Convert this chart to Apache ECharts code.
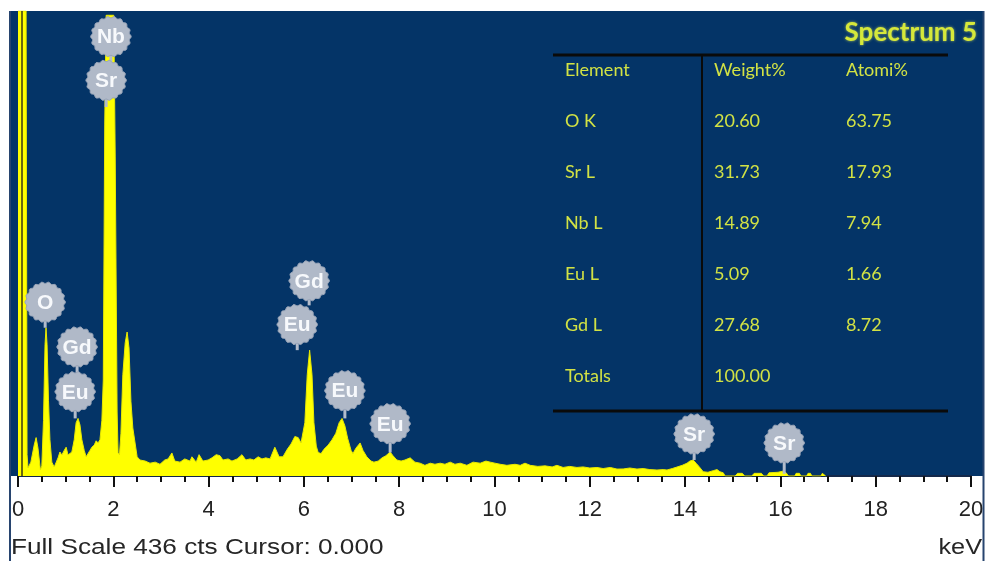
<!DOCTYPE html>
<html>
<head>
<meta charset="utf-8">
<script src="https://cdn.jsdelivr.net/npm/echarts@6/dist/echarts.min.js"></script>
<style>
  html, body { margin: 0; padding: 0; background: #ffffff; }
  #chart { width: 986px; height: 561px; }
</style>
</head>
<body>
<div id="chart"></div>
<script>
// EDS spectrum: energy (keV) and counts
const energyKeV = [
  0.00, 0.17, 0.19, 0.21, 0.27, 0.34, 0.38, 0.42, 0.47, 0.50,
  0.535, 0.567, 0.588, 0.61, 0.64, 0.67, 0.71, 0.76, 0.80, 0.84,
  0.88, 0.92, 0.97, 1.01, 1.05, 1.09, 1.13, 1.18, 1.22, 1.26,
  1.30, 1.34, 1.39, 1.43, 1.47, 1.51, 1.55, 1.60, 1.64, 1.68,
  1.72, 1.76, 1.79, 1.82, 1.85, 2.01, 2.04, 2.08, 2.10, 2.13,
  2.16, 2.20, 2.25, 2.29, 2.33, 2.37, 2.41, 2.46, 2.50, 2.56,
  2.67, 2.77, 2.88, 2.98, 3.08, 3.15, 3.23, 3.29, 3.40, 3.50,
  3.61, 3.65, 3.74, 3.80, 3.88, 3.99, 4.07, 4.16, 4.24, 4.30,
  4.41, 4.49, 4.60, 4.70, 4.78, 4.87, 4.95, 5.04, 5.12, 5.20,
  5.29, 5.39, 5.48, 5.56, 5.65, 5.73, 5.81, 5.88, 5.94, 5.98,
  6.02, 6.07, 6.12, 6.17, 6.21, 6.26, 6.30, 6.36, 6.42, 6.51,
  6.59, 6.67, 6.74, 6.80, 6.86, 6.92, 6.99, 7.03, 7.09, 7.18,
  7.24, 7.32, 7.41, 7.47, 7.56, 7.64, 7.72, 7.81, 7.87, 7.95,
  8.04, 8.12, 8.23, 8.33, 8.44, 8.54, 8.65, 8.75, 8.86, 8.96,
  9.07, 9.17, 9.28, 9.42, 9.55, 9.70, 9.82, 9.91, 10.01, 10.12,
  10.26, 10.43, 10.54, 10.64, 10.75, 10.91, 11.06, 11.21, 11.31, 11.44,
  11.58, 11.73, 11.86, 12.00, 12.15, 12.28, 12.43, 12.57, 12.70, 12.84,
  12.99, 13.12, 13.26, 13.41, 13.54, 13.62, 13.73, 13.83, 13.94, 14.04,
  14.10, 14.17, 14.23, 14.29, 14.38, 14.48, 14.59, 14.67, 14.73, 14.80,
  14.84, 15.05, 15.10, 15.20, 15.25, 15.40, 15.45, 15.60, 15.65, 15.72,
  15.76, 15.95, 16.05, 16.12, 16.17, 16.30, 16.33, 16.40, 16.43, 16.55,
  16.58, 16.63, 16.66, 16.85, 16.88, 16.92, 16.95
];
const counts = [
  436, 436, 20, 7.5, 13, 29, 36, 26, 5.6, 9.4,
  52, 123, 139, 123, 71, 34, 13, 8.4, 9.4, 17,
  22.5, 19.7, 24, 27, 19.7, 18, 22.5, 34, 50, 54,
  48, 34, 24, 18, 19, 24, 27, 29, 33, 31,
  34, 52, 90, 330, 432, 432, 300, 60, 22, 20,
  40, 95, 125, 135, 120, 70, 45, 30, 18, 15,
  14, 12, 13, 11, 15, 16, 21.6, 14, 13, 16,
  14, 18, 13, 20, 14, 15, 17, 20, 19, 15,
  16, 14, 16, 20, 15, 16, 15, 18, 16, 17,
  16, 27, 18, 18, 25, 30, 37, 36, 31, 32,
  50, 95, 118, 95, 50, 28, 22, 21, 25, 29,
  34, 40, 50, 54, 47, 35, 24, 21, 26, 31,
  24, 18, 14, 13, 14, 17, 19, 22.5, 19, 15,
  14, 15, 17, 13, 12, 10, 12, 11, 12, 11,
  13, 11, 12, 10, 13, 12, 14, 13, 12, 11,
  10, 11, 10, 12, 10, 9, 9.5, 8.5, 10, 8,
  9, 8, 8.5, 7.5, 8, 7, 8, 6.5, 6.6, 7.5,
  6.5, 7, 6, 5.6, 6, 5.6, 7, 8.4, 10, 12,
  14, 15, 12, 9, 4, 3.5, 5, 6, 4, 3,
  0, 0, 2.5, 2.5, 0, 0, 2.5, 2.5, 0, 0,
  3, 3.5, 4.5, 3, 0, 0, 2.5, 2.5, 0, 0,
  2.5, 2.5, 0, 0, 2.5, 2.5, 0
];
const fullScaleCounts = 436;
const cursorLineKeV = 0.08;

// peak identification markers
const markerElement = ['Nb', 'Sr', 'O', 'Gd', 'Eu', 'Gd', 'Eu', 'Eu', 'Eu', 'Sr', 'Sr'];
const markerKeV     = [1.95, 1.85, 0.57, 1.24, 1.20, 6.11, 5.86, 6.86, 7.81, 14.19, 16.08];
const markerCounts  = [412, 371, 163, 121, 79, 183, 142, 80, 49, 39.4, 31];
const markerStemTo  = [371, 346, 139, 79, 54, 160, 118, 54, 22, 15, 2];

// x-axis ticks
const xTickMin = 0, xTickMax = 20, xTickStep = 2;

// quantification table
const tableHeader   = ['Element', 'Weight%', 'Atomi%'];
const tableElements = ['O K', 'Sr L', 'Nb L', 'Eu L', 'Gd L', 'Totals'];
const tableWeight   = ['20.60', '31.73', '14.89', '5.09', '27.68', '100.00'];
const tableAtomic   = ['63.75', '17.93', '7.94', '1.66', '8.72', ''];

const spectrumTitle = 'Spectrum 5';
const footerText = 'Full Scale ' + fullScaleCounts + ' cts Cursor: 0.000';
const unitText = 'keV';

const spectrum = energyKeV.map((e, i) => [e, counts[i]]);
const markers = markerElement.map((m, i) => [markerKeV[i], markerCounts[i], markerStemTo[i], m]);

// serrated badge outline around a centre point
function badgePoints(cx, cy) {
  const pts = [];
  const n = 120, r = 19.5, bumps = 18, amp = 0.8;
  for (let k = 0; k < n; k++) {
    const t = (2 * Math.PI * k) / n;
    const rr = r + amp * Math.cos(bumps * t);
    pts.push([cx + rr * Math.cos(t), cy + rr * Math.sin(t)]);
  }
  return pts;
}

const tableColor = '#d2e244';
const tableFont = '"Lato", "Noto Sans", sans-serif';
const axisFont = '"Liberation Sans", Arial, sans-serif';
const colX = [565, 714, 846];
const rowY0 = 70, rowStep = 51;

const graphics = [
  // panel background
  { type: 'rect', z: -10, shape: { x: 9, y: 11, width: 975, height: 465 }, style: { fill: '#043467' } },
  // frame sides
  { type: 'line', z: 10, shape: { x1: 10, y1: 11, x2: 10, y2: 561 }, style: { stroke: '#27446f', lineWidth: 2 } },
  { type: 'line', z: 10, shape: { x1: 983.5, y1: 11, x2: 983.5, y2: 561 }, style: { stroke: '#27446f', lineWidth: 2 } },
  // title
  { type: 'text', z: 10, style: { text: spectrumTitle, x: 977, y: 33, align: 'right', verticalAlign: 'middle',
      font: 'bold 26px ' + tableFont, fill: '#d6e83a', textShadowColor: 'rgba(225,240,90,0.7)', textShadowBlur: 3 } },
  // table rules
  { type: 'line', z: 10, shape: { x1: 553, y1: 55, x2: 948, y2: 55 }, style: { stroke: '#0a0a0a', lineWidth: 3 } },
  { type: 'line', z: 10, shape: { x1: 553, y1: 411, x2: 948, y2: 411 }, style: { stroke: '#0a0a0a', lineWidth: 3 } },
  { type: 'line', z: 10, shape: { x1: 702, y1: 55, x2: 702, y2: 411 }, style: { stroke: '#0a0a0a', lineWidth: 2 } },
  // footer (the status font runs wider than Arial, hence the horizontal stretch)
  { type: 'text', z: 10, x: 11, y: 548, scaleX: 1.19, style: { text: footerText, x: 0, y: 0, align: 'left', verticalAlign: 'middle',
      font: '22px ' + axisFont, fill: '#262626' } },
  { type: 'text', z: 10, x: 982, y: 548, scaleX: 1.15, style: { text: unitText, x: 0, y: 0, align: 'right', verticalAlign: 'middle',
      font: '22px ' + axisFont, fill: '#262626' } }
];

function addTableText(text, x, y) {
  graphics.push({ type: 'text', z: 10, style: { text: text, x: x, y: y, align: 'left', verticalAlign: 'middle',
    font: '18px ' + tableFont, fill: tableColor } });
}
tableHeader.forEach((h, c) => addTableText(h, colX[c], rowY0));
tableElements.forEach((el, r) => {
  const y = rowY0 + rowStep * (r + 1);
  addTableText(el, colX[0], y);
  addTableText(tableWeight[r], colX[1], y);
  if (tableAtomic[r]) addTableText(tableAtomic[r], colX[2], y);
});

const chart = echarts.init(document.getElementById('chart'), null, { renderer: 'canvas' });
chart.setOption({
  animation: false,
  backgroundColor: '#ffffff',
  grid: { left: 18, right: 15, top: 11, bottom: 85, containLabel: false, outerBoundsMode: 'none' },
  xAxis: {
    type: 'value', min: xTickMin, max: xTickMax, interval: xTickStep,
    axisLine: { show: true, onZero: false, lineStyle: { color: '#14284a', width: 2 } },
    axisTick: { show: true, length: 11, lineStyle: { color: '#111111', width: 2 } },
    minorTick: { show: true, splitNumber: 4, length: 6, lineStyle: { color: '#111111', width: 2 } },
    splitLine: { show: false },
    axisLabel: { color: '#222222', fontSize: 22, fontFamily: axisFont, margin: 23,
                 showMinLabel: true, showMaxLabel: true }
  },
  yAxis: {
    type: 'value', min: 0, max: fullScaleCounts, show: false, splitLine: { show: false }
  },
  graphic: graphics,
  series: [
    {
      type: 'line',
      data: spectrum,
      showSymbol: false,
      smooth: false,
      z: 2,
      lineStyle: { color: '#e8e800', width: 1 },
      areaStyle: { color: '#ffff00', opacity: 1 },
      markLine: {
        silent: true, symbol: 'none', label: { show: false },
        lineStyle: { color: '#3a3812', width: 1.5, type: 'solid' },
        data: [{ xAxis: cursorLineKeV }]
      }
    },
    {
      type: 'custom',
      data: markers,
      z: 5,
      renderItem: function (params, api) {
        const c = api.coord([api.value(0), api.value(1)]);
        const s = api.coord([api.value(0), api.value(2)]);
        const label = markers[params.dataIndex][3];
        return {
          type: 'group',
          children: [
            { type: 'line', shape: { x1: c[0], y1: c[1], x2: s[0], y2: s[1] },
              style: { stroke: '#b3bccb', lineWidth: 3 } },
            { type: 'polygon', shape: { points: badgePoints(c[0], c[1]) },
              style: { fill: '#b0b9c8', stroke: '#98a4b8', lineWidth: 1 } },
            { type: 'text', style: { text: label, x: c[0], y: c[1] + 1, align: 'center', verticalAlign: 'middle',
              font: 'bold 21px ' + axisFont, fill: '#f7f9fc' } }
          ]
        };
      }
    }
  ]
});
</script>
</body>
</html>
